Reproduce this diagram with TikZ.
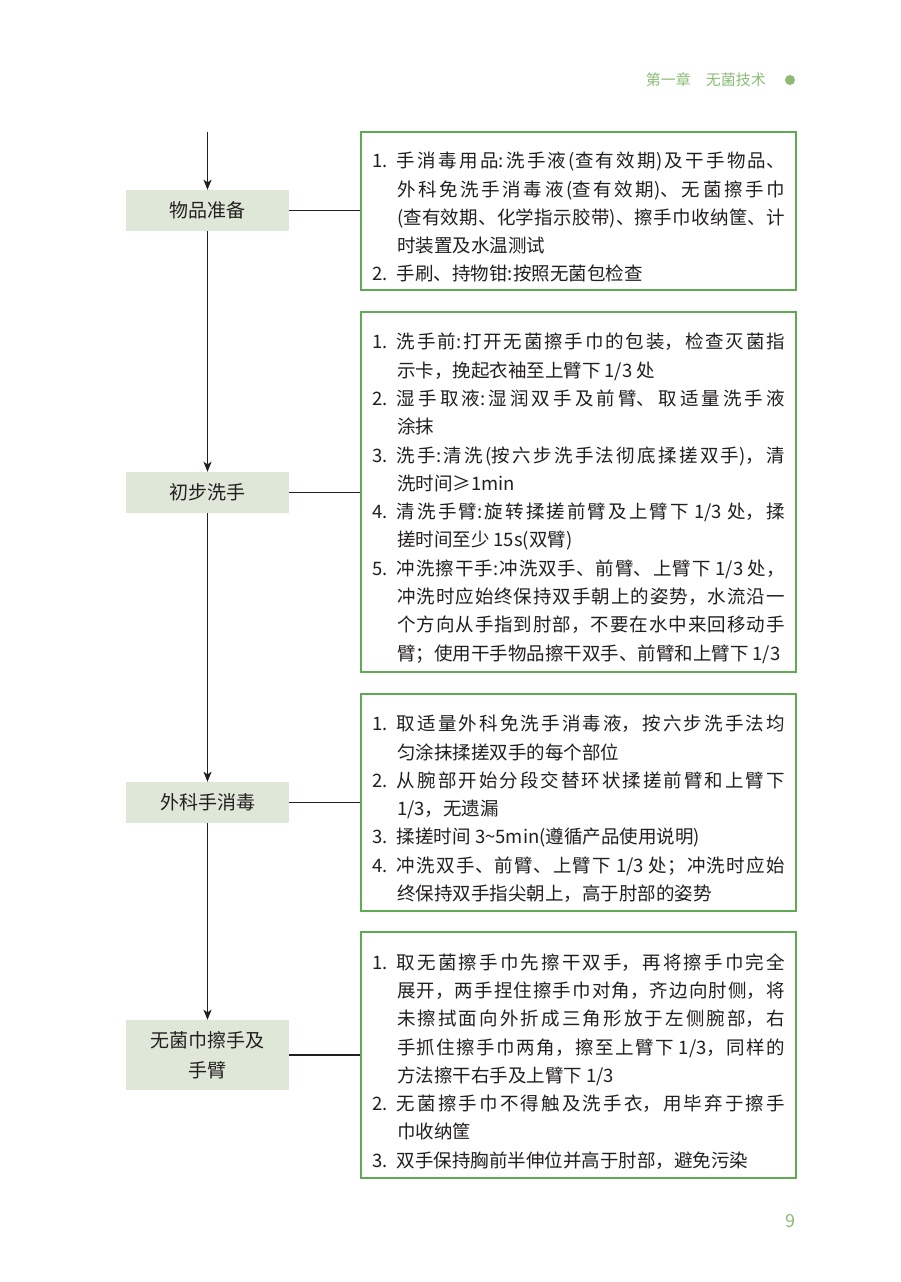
\documentclass[tikz,border=0pt]{standalone}
\usepackage{fontspec}
\newfontfamily\cjk{Noto Sans CJK SC}
\usetikzlibrary{arrows.meta}
\XeTeXlinebreaklocale "zh"
\XeTeXlinebreakskip=0pt plus 4pt
\tolerance=9999
\hbadness=10000
\definecolor{boxfill}{RGB}{223,231,216}
\definecolor{boxline}{RGB}{96,170,84}
\definecolor{hdr}{RGB}{140,188,120}
\definecolor{ink}{RGB}{35,31,32}
\newcommand\itm[2]{\par\noindent\hangindent=25pt\hangafter=1\makebox[25pt][l]{#1}#2\par}
\tikzset{
  leftbox/.style={fill=boxfill, draw=none, minimum width=163pt, minimum height=41pt,
    inner sep=0pt, align=center, text=ink, font=\cjk\fontsize{19}{30}\selectfont},
  rightbox/.style={draw=boxline, line width=1.3pt, text width=413pt, inner xsep=11pt,
    inner ysep=0pt, minimum width=435pt, align=justify, text=ink,
    font=\cjk\fontsize{18.5}{28.3}\selectfont},
  link/.style={draw=ink, line width=1.2pt},
  arr/.style={link, -{Stealth[length=10pt,width=8pt,inset=2.5pt]}},
  hdrtext/.style={text=hdr, inner sep=0pt, font=\cjk\fontsize{15}{18}\selectfont}
}
\begin{document}
\begin{tikzpicture}[x=1pt,y=-1pt]
\useasboundingbox (0,0) rectangle (900,1282);
\fill[white] (0,0) rectangle (900,1282);
% header
\node[hdrtext, anchor=east] (hd) at (766,80) {第一章\hspace{1em}无菌技术};
\node[circle, fill=hdr, minimum size=10pt, inner sep=0pt] (dot) at (790,80) {};
\node[hdrtext, font=\cjk\fontsize{18}{20}\selectfont] (pg) at (790,1221) {9};
% left boxes
\node[leftbox] (a) at (207.5,210.5) {物品准备};
\node[leftbox] (b) at (207.5,492.5) {初步洗手};
\node[leftbox] (c) at (207.5,802.5) {外科手消毒};
\node[leftbox, minimum height=70pt] (d) at (207.5,1055) {无菌巾擦手及\\手臂};
% right boxes
\node[rightbox, minimum height=158pt] (ra) at (578.5,211) {%
\itm{1.}{手消毒用品:洗手液(查有效期)及干手物品、\linebreak 外科免洗手消毒液(查有效期)、无菌擦手巾\linebreak (查有效期、化学指示胶带)、擦手巾收纳筐、计\linebreak 时装置及水温测试}%
\itm{2.}{手刷、持物钳:按照无菌包检查}};
\node[rightbox, minimum height=360pt] (rb) at (578.5,492) {%
\itm{1.}{洗手前:打开无菌擦手巾的包装，检查灭菌指\linebreak 示卡，挽起衣袖至上臂下 1/3 处}%
\itm{2.}{湿手取液:湿润双手及前臂、取适量洗手液\linebreak 涂抹}%
\itm{3.}{洗手:清洗(按六步洗手法彻底揉搓双手)，清\linebreak 洗时间≥1min}%
\itm{4.}{清洗手臂:旋转揉搓前臂及上臂下 1/3 处，揉\linebreak 搓时间至少 15s(双臂)}%
\itm{5.}{冲洗擦干手:冲洗双手、前臂、上臂下 1/3 处，\linebreak 冲洗时应始终保持双手朝上的姿势，水流沿一\linebreak 个方向从手指到肘部，不要在水中来回移动手\linebreak 臂；使用干手物品擦干双手、前臂和上臂下 1/3}};
\node[rightbox, minimum height=217pt] (rc) at (578.5,802.5) {%
\itm{1.}{取适量外科免洗手消毒液，按六步洗手法均\linebreak 匀涂抹揉搓双手的每个部位}%
\itm{2.}{从腕部开始分段交替环状揉搓前臂和上臂下\linebreak 1/3，无遗漏}%
\itm{3.}{揉搓时间 3\textasciitilde 5min(遵循产品使用说明)}%
\itm{4.}{冲洗双手、前臂、上臂下 1/3 处；冲洗时应始\linebreak 终保持双手指尖朝上，高于肘部的姿势}};
\node[rightbox, minimum height=246pt] (rd) at (578.5,1055) {%
\itm{1.}{取无菌擦手巾先擦干双手，再将擦手巾完全\linebreak 展开，两手捏住擦手巾对角，齐边向肘侧，将\linebreak 未擦拭面向外折成三角形放于左侧腕部，右\linebreak 手抓住擦手巾两角，擦至上臂下 1/3，同样的\linebreak 方法擦干右手及上臂下 1/3}%
\itm{2.}{无菌擦手巾不得触及洗手衣，用毕弃于擦手\linebreak 巾收纳筐}%
\itm{3.}{双手保持胸前半伸位并高于肘部，避免污染}};
% connectors
\coordinate (top) at (207.5,132);
\draw[arr] (top) -- (a.north);
\draw[arr] (a.south) -- (b.north);
\draw[arr] (b.south) -- (c.north);
\draw[arr] (c.south) -- (d.north);
\draw[link] (a.east) -- (a.east -| ra.west);
\draw[link] (b.east) -- (b.east -| rb.west);
\draw[link] (c.east) -- (c.east -| rc.west);
\draw[link] (d.east) -- (d.east -| rd.west);
\end{tikzpicture}
\end{document}
